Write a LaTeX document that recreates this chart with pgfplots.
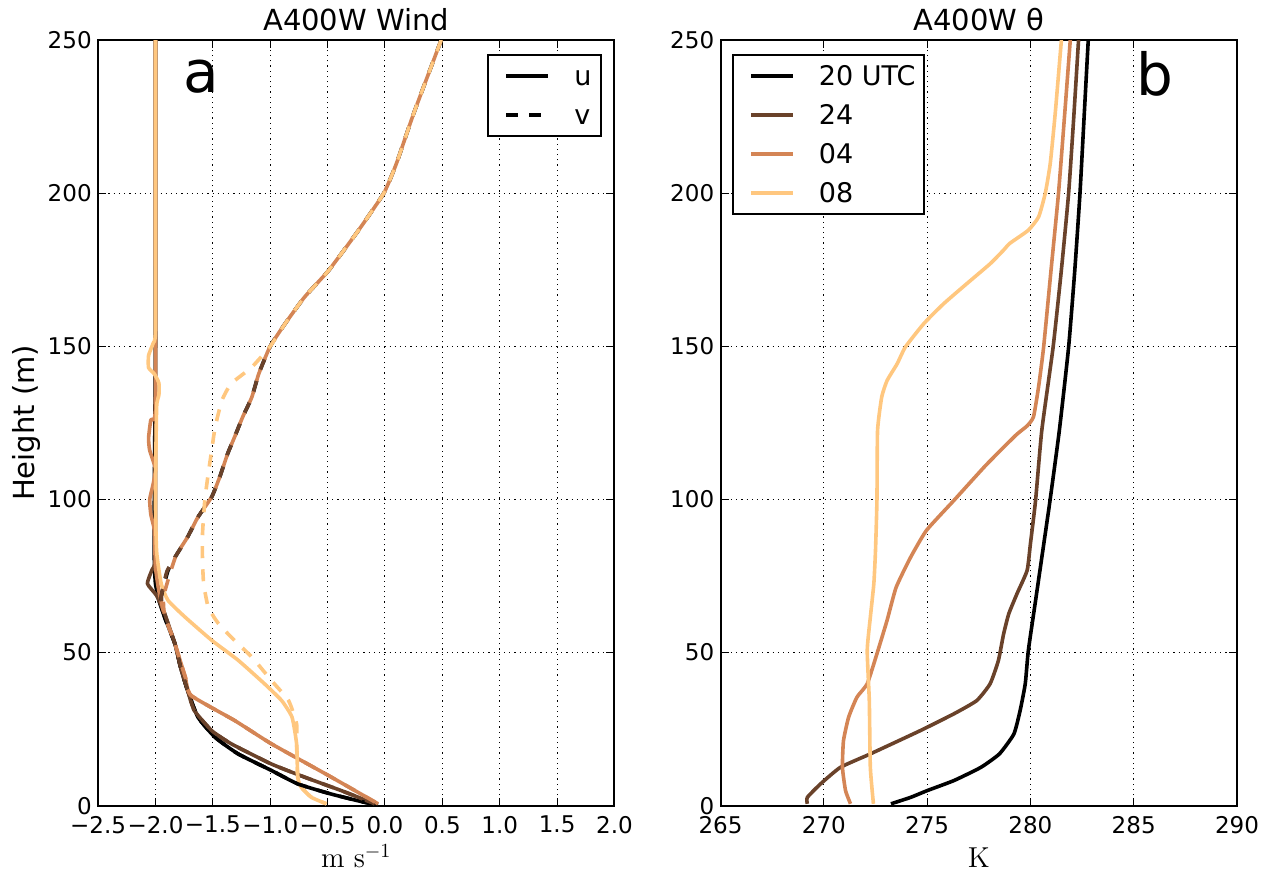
\documentclass[border=0pt]{standalone}
\usepackage[no-math]{fontspec}
\setmainfont{DejaVu Sans}
\usepackage{pgfplots}
\pgfplotsset{compat=1.18}
\definecolor{c0}{rgb}{0,0,0}
\definecolor{c1}{rgb}{0.4167,0.2604,0.1658}
\definecolor{c2}{rgb}{0.8333,0.5208,0.3317}
\definecolor{c3}{rgb}{1,0.7812,0.4975}
\pgfplotsset{
  myax/.style={
    scale only axis, width=258pt, height=382.5pt,
    ymin=0, ymax=250, ytick={0,50,100,150,200,250},
    grid=major,
    major grid style={black, line width=0.5pt, dash pattern=on 0.6pt off 2pt},
    axis line style={line width=1pt},
    tick align=inside, xtick pos=both, ytick pos=both,
    major tick length=4pt, minor tick num=0,
    every tick/.style={black, line width=0.5pt},
    /pgf/number format/assume math mode=true,
    tick label style={font=\fontsize{11.5}{13}\selectfont},
    xticklabel style={anchor=north, inner sep=0pt, yshift=-5pt},
    yticklabel style={anchor=east, inner sep=0pt, xshift=-3pt},
    every axis title shift=0pt,
    title style={font=\fontsize{14.5}{17}\selectfont, at={(axis description cs:0.5,1)}, anchor=base, yshift=5pt},
    xlabel style={at={(axis description cs:0.5,0)}, anchor=base, yshift=-31pt, font=\fontsize{14.5}{17}\selectfont},
    legend style={draw=black, line width=1pt, inner xsep=4.5pt, inner ysep=5.5pt,
      font=\fontsize{13.5}{16}\selectfont,
      nodes={inner sep=0pt, text height=10pt, text depth=0pt},
      row sep=9.5pt,
      /tikz/every odd column/.append style={column sep=12pt}},
    legend cell align=left,
    legend image code/.code={\path (0pt,0pt); \draw[#1] (3.5pt,0pt) -- (24.5pt,0pt);},
    every axis plot/.append style={line width=1.8pt, line join=round},
  },
  vdash/.style={dash pattern=on 6pt off 5.5pt},
}
\begin{document}
\begin{tikzpicture}
\useasboundingbox (-49pt,-34.5pt) rectangle (585pt,402.5pt);
% ---------------- Wind ----------------
\begin{axis}[myax, at={(0pt,0pt)},
  xmin=-2.5, xmax=2,
  xtick={-2.5,-2,-1.5,-1,-0.5,0,0.5,1,1.5,2},
  xticklabels={−2.5,−2.0,−1.5,−1.0,−0.5,0.0,0.5,1.0,1.5,2.0},
  title={A400W Wind},
  xlabel={$\mathrm{m\ s^{-1}}$},
  legend style={at={(0.975,0.982)}, anchor=north east},
  clip mode=individual,
]
% 20 UTC u
\addplot[c0, smooth, tension=0.3, forget plot] coordinates {(-0.06,0.3) (-0.18,1.1) (-0.47,3.8) (-0.76,7.1) (-0.99,11.5) (-1.28,16.9) (-1.48,22.3) (-1.63,28.9) (-1.72,37.6) (-1.78,45) (-1.83,52.8) (-1.92,61.5) (-1.97,67) (-2.0,72.5) (-2.01,80) (-2.01,100) (-2.0,150) (-2.0,200) (-2.0,250)};
% 24 u
\addplot[c1, smooth, tension=0.3, forget plot] coordinates {(-0.09,0.6) (-0.38,4.9) (-0.70,9.3) (-0.99,13.6) (-1.34,20.2) (-1.51,24.5) (-1.66,31) (-1.72,37.6) (-1.78,45) (-1.83,52.8) (-1.92,62.7) (-1.99,68.6) (-2.07,72.5) (-2.03,77) (-2.0,80) (-2.0,100) (-2.0,150) (-2.0,250)};
% 04 u
\addplot[c2, smooth, tension=0.3, forget plot] coordinates {(-0.06,0.6) (-0.50,10) (-0.99,20.2) (-1.31,27.8) (-1.69,36) (-1.74,42) (-1.79,48) (-1.84,54) (-1.92,62) (-1.97,70) (-2.0,78) (-2.01,90) (-2.04,95) (-2.05,100) (-2.02,105) (-2.0,110) (-2.05,116) (-2.06,120) (-2.04,126) (-2.0,130) (-2.0,200) (-2.0,250)};
% 08 u
\addplot[c3, smooth, tension=0.3, forget plot] coordinates {(-0.51,0.6) (-0.64,2.7) (-0.73,6.0) (-0.76,9.3) (-0.77,20.2) (-0.81,28.9) (-0.90,34.3) (-1.05,39.8) (-1.28,47.5) (-1.51,54) (-1.74,61.5) (-1.89,67) (-1.95,72.5) (-1.99,83) (-2.0,100) (-1.99,130) (-1.97,134) (-1.97,138) (-2.01,141) (-2.06,143) (-2.06,147) (-2.02,151) (-2.0,155) (-2.0,200) (-2.0,250)};
% 20 UTC v
\addplot[c0, vdash, smooth, tension=0.3, forget plot] coordinates {(0.49,250) (0.25,226) (0.10,209.7) (-0.01,200) (-0.23,187.9) (-0.49,174.8) (-0.70,166.1) (-0.87,157.4) (-1.0,150) (-1.10,141) (-1.16,133.4) (-1.24,126.9) (-1.31,120.4) (-1.37,115) (-1.44,107.3) (-1.51,100.8) (-1.63,94.2) (-1.72,87.7) (-1.82,81.7) (-1.89,76.8) (-1.95,68) (-1.92,61.5) (-1.83,52.8) (-1.78,45) (-1.72,37.6) (-1.63,28.9) (-1.48,22.3) (-1.28,16.9) (-0.99,11.5) (-0.76,7.1) (-0.47,3.8) (-0.18,1.1) (-0.06,0.3)};
% 24 v
\addplot[c1, vdash, smooth, tension=0.3, forget plot] coordinates {(0.49,250) (0.25,226) (0.10,209.7) (-0.01,200) (-0.23,187.9) (-0.49,174.8) (-0.70,166.1) (-0.87,157.4) (-1.0,150) (-1.10,141) (-1.16,133.4) (-1.24,126.9) (-1.31,120.4) (-1.37,115) (-1.44,107.3) (-1.51,100.8) (-1.63,94.2) (-1.72,87.7) (-1.82,81.7) (-1.90,76.5) (-1.95,68) (-1.92,62.7) (-1.83,52.8) (-1.78,45) (-1.72,37.6) (-1.66,31) (-1.51,24.5) (-1.34,20.2) (-0.99,13.6) (-0.70,9.3) (-0.38,4.9) (-0.09,0.6)};
% 04 v
\addplot[c2, vdash, dash phase=5.75pt, smooth, tension=0.3, forget plot] coordinates {(0.49,250) (0.25,226) (0.10,209.7) (-0.01,200) (-0.23,187.9) (-0.49,174.8) (-0.70,166.1) (-0.87,157.4) (-1.0,150) (-1.10,141) (-1.16,133.4) (-1.24,126.9) (-1.31,120.4) (-1.37,115) (-1.44,107.3) (-1.51,100.8) (-1.63,94.2) (-1.72,87.7) (-1.82,81.7) (-1.88,75) (-1.93,68) (-1.92,62) (-1.84,54) (-1.79,48) (-1.74,42) (-1.69,36) (-1.31,27.8) (-0.99,20.2) (-0.50,10) (-0.06,0.6)};
% 08 v
\addplot[c3, vdash, smooth, tension=0.3, forget plot] coordinates {(0.49,250) (0.25,226) (0.10,209.7) (-0.01,200) (-0.23,187.9) (-0.49,174.8) (-0.70,166.1) (-0.87,157.4) (-1.0,150) (-1.16,143.2) (-1.34,137.8) (-1.42,132.4) (-1.48,123.6) (-1.51,116) (-1.54,108.4) (-1.57,99.7) (-1.59,88.8) (-1.59,80) (-1.58,72.5) (-1.54,64.8) (-1.45,59.4) (-1.31,53.9) (-1.16,48.5) (-0.99,40.9) (-0.84,34.3) (-0.77,26.7) (-0.77,20.2) (-0.76,9.3) (-0.73,6.0) (-0.64,2.7) (-0.51,0.6)};
\addlegendimage{black, line width=2pt}
\addlegendentry{u}
\addlegendimage{black, line width=2pt, vdash}
\addlegendentry{v}
\node[anchor=base west, inner sep=0pt, font=\fontsize{29}{34}\selectfont] at (axis cs:-1.76,233) {a};
\node[rotate=90, anchor=base, inner sep=0pt, font=\fontsize{14.5}{17}\selectfont] at ([xshift=-32pt]rel axis cs:0,0.5) {Height (m)};
\end{axis}
% ---------------- Theta ----------------
\begin{axis}[myax, at={(311pt,0pt)},
  xmin=265, xmax=290, xtick={265,270,275,280,285,290},
  title={A400W θ},
  xlabel={$\mathrm{K}$},
  legend style={at={(0.0226,0.982)}, anchor=north west},
]
\addplot[c0, smooth, tension=0.3] coordinates {(273.25,0.6) (274.2,2.7) (275.0,4.9) (276.3,8.2) (277.6,12.5) (278.5,16.9) (279.2,23.4) (279.5,31) (279.75,39.8) (279.9,50.7) (280.25,67) (280.6,83.3) (280.95,99.7) (281.4,122.5) (281.85,149.8) (282.15,175) (282.4,200) (282.6,225) (282.8,250)};
\addlegendentry{20 UTC}
\addplot[c1, smooth, tension=0.3] coordinates {(269.2,0.6) (269.2,2.7) (269.84,7.1) (270.8,12.5) (272.25,16.9) (274.67,24.5) (276.3,30) (277.4,34.3) (278.05,39.8) (278.45,47.4) (278.7,56) (278.95,62.6) (279.35,69.2) (279.84,76.8) (280.0,85.5) (280.25,99.7) (280.55,122.5) (281.1,149.8) (281.5,175) (281.85,200) (282.1,225) (282.33,250)};
\addlegendentry{24}
\addplot[c2, smooth, tension=0.3] coordinates {(271.29,0.6) (271.05,4.9) (270.9,12.5) (270.95,21.2) (271.2,28.9) (271.6,35.4) (272.1,39.8) (272.57,49.6) (273.06,60.5) (273.5,71.3) (274.2,81.1) (274.97,89.9) (276.3,99.7) (277.85,111.2) (279.3,121) (279.84,124) (280.15,127) (280.4,137) (280.64,149.8) (281.0,175) (281.36,200) (281.65,225) (281.93,250)};
\addlegendentry{04}
\addplot[c3, smooth, tension=0.3] coordinates {(272.4,0.6) (272.25,12.5) (272.2,34.3) (272.1,50.7) (272.25,61.5) (272.42,72.5) (272.5,83.3) (272.57,99.7) (272.6,122.5) (272.8,133.4) (273.06,138.8) (273.55,144.3) (273.95,149.8) (274.84,157.4) (275.8,163.9) (276.93,170.5) (278.06,177) (278.7,181.4) (279.0,183.6) (279.9,187.9) (280.4,192.3) (280.72,200) (280.96,209.7) (281.2,226) (281.5,250)};
\addlegendentry{08}
\node[anchor=base west, inner sep=0pt, font=\fontsize{29}{34}\selectfont] at (axis cs:285.1,232) {b};
\end{axis}
\end{tikzpicture}
\end{document}
